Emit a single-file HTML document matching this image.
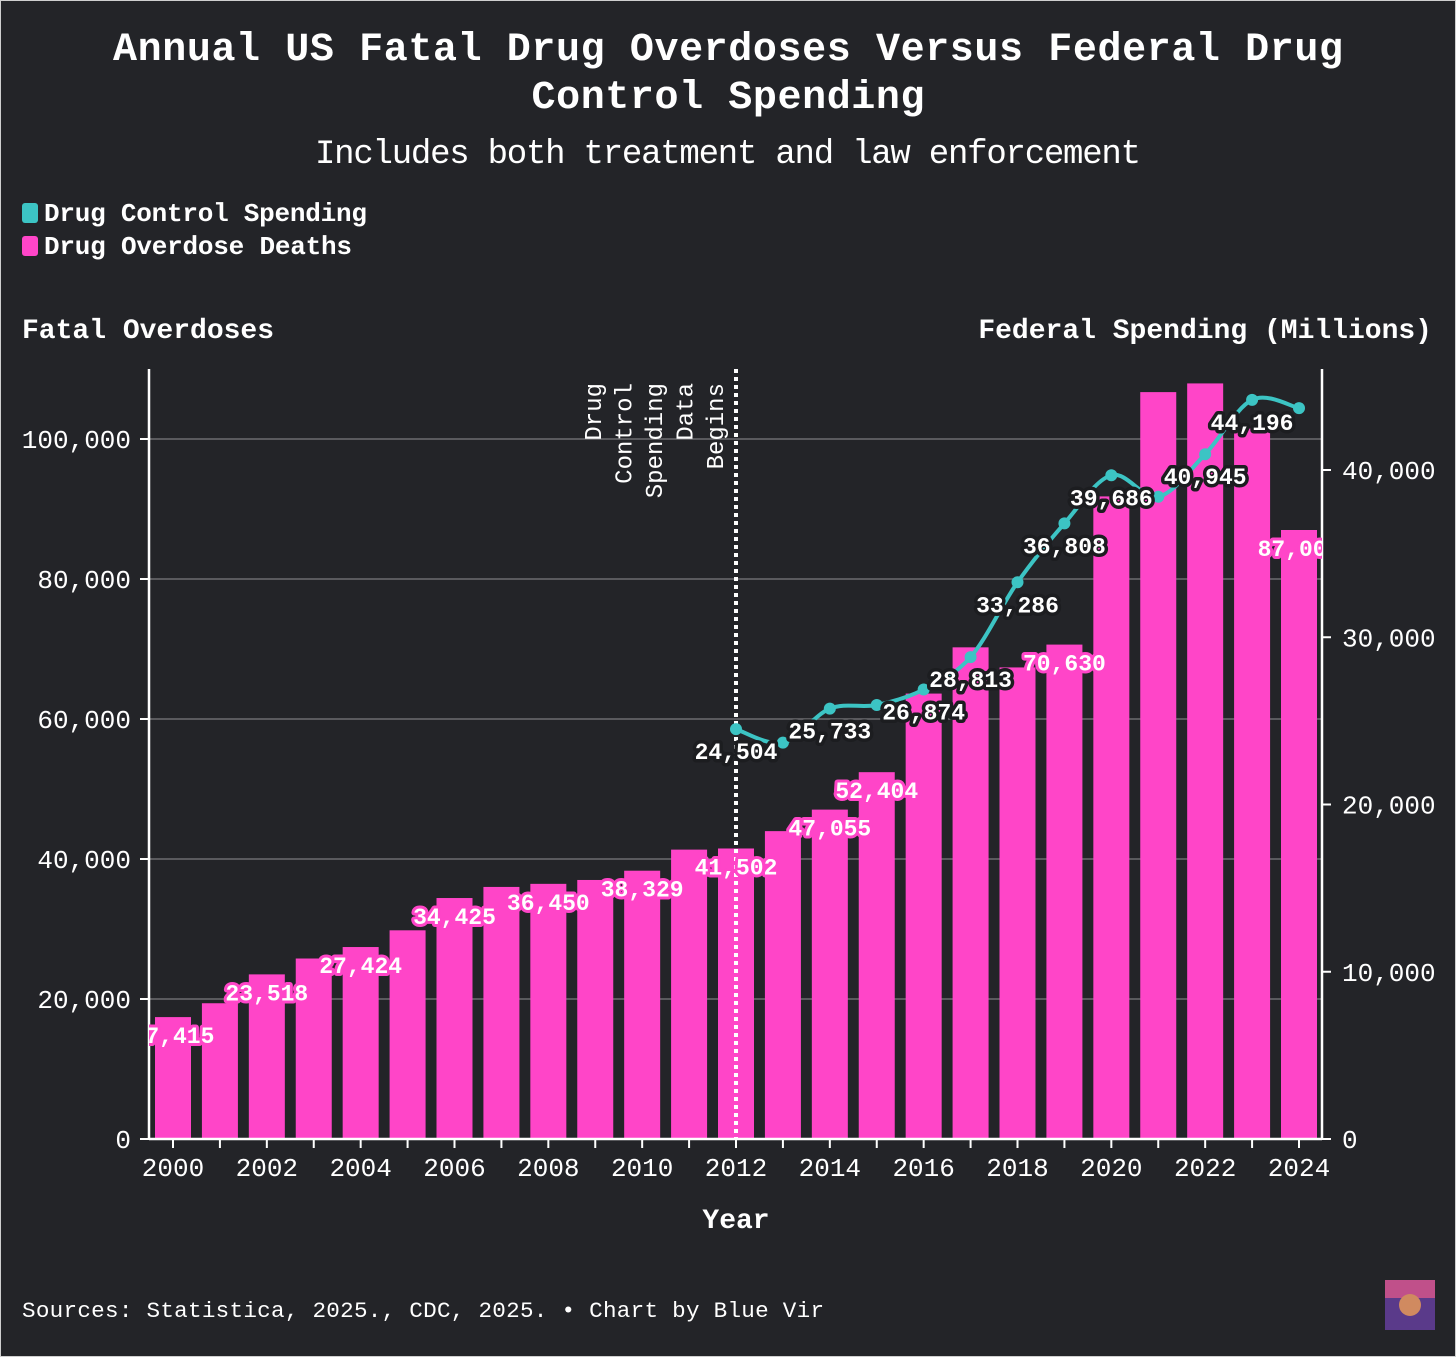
<!DOCTYPE html>
<html><head><meta charset="utf-8"><style>
body{margin:0;background:#232428;}
svg{display:block;font-family:"Liberation Mono",monospace;}
</style></head><body>
<svg id="chart" width="1456" height="1357" viewBox="0 0 1456 1357">
<rect x="0.5" y="0.5" width="1455" height="1356" fill="#232428" stroke="#cfcfcf" stroke-width="1"/>
<text x="728" y="60" text-anchor="middle" font-size="40" font-weight="bold" fill="#fff" textLength="1230">Annual US Fatal Drug Overdoses Versus Federal Drug</text>
<text x="728" y="108" text-anchor="middle" font-size="40" font-weight="bold" fill="#fff" textLength="393">Control Spending</text>
<text x="728" y="163" text-anchor="middle" font-size="34" fill="#fff" textLength="826">Includes both treatment and law enforcement</text>
<g>
<rect x="22" y="203" width="16" height="20" rx="3" fill="#3cc4c4"/>
<text x="44" y="221" font-size="26" font-weight="bold" fill="#fff" textLength="323">Drug Control Spending</text>
<rect x="22" y="236" width="16" height="20" rx="3" fill="#ff45c8"/>
<text x="44" y="254" font-size="26" font-weight="bold" fill="#fff" textLength="308">Drug Overdose Deaths</text>
</g>
<text x="22" y="338" font-size="28" font-weight="bold" fill="#fff">Fatal Overdoses</text>
<text x="1432" y="338" text-anchor="end" font-size="28" font-weight="bold" fill="#fff">Federal Spending (Millions)</text>
<text x="736" y="1228" text-anchor="middle" font-size="28" font-weight="bold" fill="#fff">Year</text>
<text x="22" y="1317" font-size="22.6" fill="#fff" textLength="802">Sources: Statistica, 2025., CDC, 2025. • Chart by Blue Vir</text>
<g>
<rect x="1385" y="1280" width="50" height="50" fill="#5a3a8a"/>
<rect x="1385" y="1280" width="50" height="18" fill="#c0508a"/>
<circle cx="1410" cy="1305" r="11" fill="#d08a60"/>
</g>
<defs><clipPath id="plotclip"><rect x="149" y="300" width="1173" height="850"/></clipPath></defs>
<g id="grid"></g>
<g id="bars" clip-path="url(#plotclip)"></g>
<g id="axes"></g>
<g id="annot"></g>
<g id="line"></g>
<g id="labels" clip-path="url(#plotclip)"></g>
</svg>
<script>
const years = [2000,2001,2002,2003,2004,2005,2006,2007,2008,2009,2010,2011,2012,2013,2014,2015,2016,2017,2018,2019,2020,2021,2022,2023,2024];
const deaths = [17415,19394,23518,25785,27424,29813,34425,36010,36450,37004,38329,41340,41502,43982,47055,52404,63632,70237,67367,70630,91799,106699,107941,101500,87000];
const deathLabelYears = [2000,2002,2004,2006,2008,2010,2012,2014,2015,2019,2024];
const spendYears = [2012,2013,2014,2015,2016,2017,2018,2019,2020,2021,2022,2023,2024];
const spending = [24504,23700,25733,25950,26874,28813,33286,36808,39686,38400,40945,44196,43700];
const spendLabelYears = [2012,2014,2016,2017,2018,2019,2020,2022,2023];
const leftTicks = [0,20000,40000,60000,80000,100000];
const rightTicks = [0,10000,20000,30000,40000];
const xTicks = [2000,2002,2004,2006,2008,2010,2012,2014,2016,2018,2020,2022,2024];

const NS='http://www.w3.org/2000/svg';
const X0=149,X1=1322,Y0=1139,YT=369;
const x = y => 173 + (y-2000)*(1126/24);
const yL = v => Y0 - v*0.007;
const yR = v => Y0 - v*(669/40000);
const fmt = v => v.toLocaleString('en-US');
function mk(tag,attrs,parent){const e=document.createElementNS(NS,tag);for(const k in attrs)e.setAttribute(k,attrs[k]);parent.appendChild(e);return e;}
const G=id=>document.getElementById(id);

leftTicks.forEach(t=>{
  if(t>0){const g=mk('line',{x1:X0,x2:X1,y1:yL(t),y2:yL(t),stroke:'#5a5a5e','stroke-width':2},G('grid'));
  
  }
  const tk=mk('line',{x1:X0-9,x2:X0,y1:yL(t),y2:yL(t),stroke:'#fff','stroke-width':2},G('axes'));
  
  
  const tx=mk('text',{x:X0-18,y:yL(t)+9,'text-anchor':'end','font-size':26,fill:'#fff'},G('axes'));
  tx.textContent=fmt(t);
  
  
});
rightTicks.forEach(t=>{
  const tk=mk('line',{x1:X1,x2:X1+9,y1:yR(t),y2:yR(t),stroke:'#fff','stroke-width':2},G('axes'));
  
  
  const tx=mk('text',{x:X1+20,y:yR(t)+9,'font-size':26,fill:'#fff'},G('axes'));
  tx.textContent=fmt(t);
  
  
});
years.forEach((yr,i)=>{
  const b=mk('rect',{x:x(yr)-18,y:yL(deaths[i]),width:36,height:Y0-yL(deaths[i]),fill:'#ff45c8'},G('bars'));
  
  
  const tk=mk('line',{x1:x(yr),x2:x(yr),y1:Y0,y2:Y0+9,stroke:'#fff','stroke-width':2},G('axes'));
  
  
});
xTicks.forEach(yr=>{
  const tx=mk('text',{x:x(yr),y:Y0+37,'text-anchor':'middle','font-size':26,fill:'#fff'},G('axes'));
  tx.textContent=yr;
  
  
});
[['left-axis-line',X0,YT,X0,Y0],['right-axis-line',X1,YT,X1,Y0],['x-axis-line',X0,Y0,X1,Y0]].forEach(a=>{
  const l=mk('line',{x1:a[1],y1:a[2],x2:a[3],y2:a[4],stroke:'#fff','stroke-width':2.5},G('axes'));
  
  
});
const dl=mk('line',{x1:x(2012),x2:x(2012),y1:YT,y2:Y0,stroke:'#fff','stroke-width':4,'stroke-dasharray':'4 4'},G('annot'));


['Drug','Control','Spending','Data','Begins'].forEach((w,i)=>{
  const cx=601+i*30.5;
  const t=mk('text',{x:0,y:0,transform:`translate(${cx},383) rotate(-90)`,'text-anchor':'end','font-size':24,fill:'#fff'},G('annot'));
  t.textContent=w;
  
  
});
const pts=spendYears.map((yr,i)=>[x(yr),yR(spending[i])]);
let d='M'+pts[0][0]+','+pts[0][1];
for(let i=0;i<pts.length-1;i++){
  const p0=pts[Math.max(0,i-1)],p1=pts[i],p2=pts[i+1],p3=pts[Math.min(pts.length-1,i+2)];
  const c1=[p1[0]+(p2[0]-p0[0])/6,p1[1]+(p2[1]-p0[1])/6],c2=[p2[0]-(p3[0]-p1[0])/6,p2[1]-(p3[1]-p1[1])/6];
  d+=`C${c1[0]},${c1[1]} ${c2[0]},${c2[1]} ${p2[0]},${p2[1]}`;
}
const path=mk('path',{d:d,fill:'none',stroke:'#3cc4c4','stroke-width':4,'stroke-linecap':'round'},G('line'));


pts.forEach((p,i)=>{
  const c=mk('circle',{cx:p[0],cy:p[1],r:6,fill:'#3cc4c4'},G('line'));
  
  
});
deathLabelYears.forEach(yr=>{
  const v=deaths[years.indexOf(yr)];
  const t=mk('text',{x:x(yr),y:yL(v)+26,'text-anchor':'middle','font-size':23,'font-weight':'bold',fill:'#fff',stroke:'#ff45c8','stroke-width':6,'paint-order':'stroke','stroke-linejoin':'round'},G('labels'));
  t.textContent=fmt(v);
  
  
});
spendLabelYears.forEach(yr=>{
  const v=spending[spendYears.indexOf(yr)];
  const t=mk('text',{x:x(yr),y:yR(v)+30,'text-anchor':'middle','font-size':23,'font-weight':'bold',fill:'#fff',stroke:'#1c1d20','stroke-width':7,'paint-order':'stroke','stroke-linejoin':'round'},G('labels'));
  t.textContent=fmt(v);
  
  
});
</script>
</body></html>
